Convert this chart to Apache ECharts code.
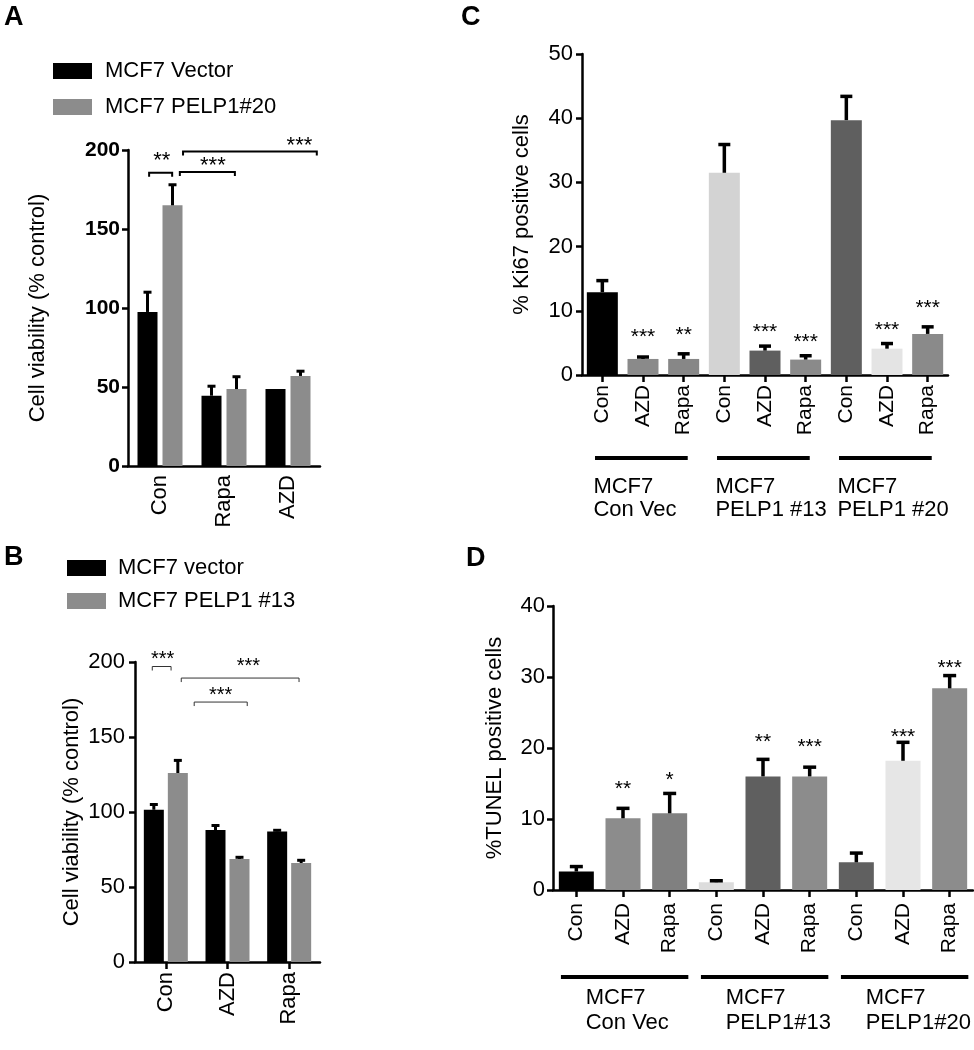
<!DOCTYPE html>
<html><head><meta charset="utf-8">
<script src="https://cdn.jsdelivr.net/npm/echarts@6/dist/echarts.min.js"></script>
<style>html,body{margin:0;padding:0;background:#fff}#c{width:974px;height:1050px}</style>
</head><body><div id="c"></div>
<script>
// ---------- Panel A ----------
const aCategories = ['Con', 'Rapa', 'AZD'];
const aVector = [97.5, 44.5, 48.7];
const aVectorSem = [12.5, 6.0, 0];
const aPelp20 = [165, 48.7, 57];
const aPelp20Sem = [13, 7.8, 3];
// [startCat, startFrac, endCat, endFrac, bracketY, labelFrac, labelY]
const aBrackets = [[0, -0.17, 0, 0.19, 185.6, 0.55, 193], [0, 0.31, 1, 0.17, 186, 0.6, 190], [0, 0.36, 2, 0.45, 199, 0.87, 202.7]];
const aBracketText = ['**', '***', '***'];

// ---------- Panel B ----------
const bCategories = ['Con', 'AZD', 'Rapa'];
const bVector = [101.5, 88, 87];
const bVectorSem = [3.5, 3, 0.8];
const bPelp13 = [126, 68.7, 66];
const bPelp13Sem = [8.4, 1.1, 1.8];
const bBrackets = [[0, -0.22, 0, 0.085, 197, 0.55, 202], [0, 0.25, 2, 0.16, 189.3, 0.57, 196.7], [1, -0.54, 1, 0.32, 173.3, 0.5, 178]];
const bBracketText = ['***', '***', '***'];

// ---------- Panel C ----------
const cCategories = ['Con', 'AZD', 'Rapa', 'Con', 'AZD', 'Rapa', 'Con', 'AZD', 'Rapa'];
const cMean = [12.9, 2.5, 2.5, 31.5, 3.8, 2.4, 39.7, 4.1, 6.4];
const cSem = [1.8, 0.3, 0.8, 4.4, 0.7, 0.6, 3.7, 0.8, 1.1];
const cStarText = ['', '***', '**', '', '***', '***', '', '***', '***'];
const cStarY = [0, 5.9, 6.2, 0, 6.7, 5.1, 0, 7.0, 10.4];
const cColors = ['#000000', '#8a8a8a', '#878787', '#d3d3d3', '#5f5f5f', '#8a8a8a', '#5f5f5f', '#e4e4e4', '#8a8a8a'];
const cGroups = [[0, 2], [3, 5], [6, 8]];
const cGroupText = ['MCF7\nCon Vec', 'MCF7\nPELP1 #13', 'MCF7\nPELP1 #20'];

// ---------- Panel D ----------
const dCategories = ['Con', 'AZD', 'Rapa', 'Con', 'AZD', 'Rapa', 'Con', 'AZD', 'Rapa'];
const dMean = [2.6, 10.1, 10.8, 1.1, 16.0, 16.0, 3.9, 18.2, 28.4];
const dSem = [0.7, 1.4, 2.8, 0.2, 2.4, 1.3, 1.3, 2.6, 1.8];
const dStarText = ['', '**', '*', '', '**', '***', '', '***', '***'];
const dStarY = [0, 14.2, 15.4, 0, 20.8, 20.1, 0, 21.5, 31.3];
const dColors = ['#000000', '#8c8c8c', '#808080', '#dcdcdc', '#5f5f5f', '#8c8c8c', '#606060', '#e6e6e6', '#8c8c8c'];
const dGroups = [[0, 2], [3, 5], [6, 8]];
const dGroupText = ['MCF7\nCon Vec', 'MCF7\nPELP1#13', 'MCF7\nPELP1#20'];

const FONT = "'Liberation Sans', Arial, Helvetica, sans-serif";

function txt(text, x, y, size, align, valign, extra) {
  return Object.assign({
    type: 'text',
    style: {
      text: text, x: x, y: y, fill: '#000',
      font: size + 'px ' + FONT,
      align: align, textAlign: align,
      verticalAlign: valign, textVerticalAlign: valign
    }
  }, extra || {});
}

function errRender(offset, capW, lw) {
  return function (params, api) {
    const cat = api.value(0), mean = api.value(1), sem = api.value(2);
    if (!(sem > 0)) return null;
    const p0 = api.coord([cat, mean]);
    const p1 = api.coord([cat, mean + sem]);
    const x = p0[0] + offset;
    const st = { stroke: '#000', lineWidth: lw };
    return {
      type: 'group', children: [
        { type: 'line', shape: { x1: x, y1: p0[1], x2: x, y2: p1[1] }, style: st },
        { type: 'line', shape: { x1: x - capW / 2, y1: p1[1], x2: x + capW / 2, y2: p1[1] }, style: st }
      ]
    };
  };
}

function bracketRender(labels, lw, color, tick, fontSize) {
  return function (params, api) {
    const band = api.size([1, 0])[0];
    const x1 = api.coord([api.value(0), 0])[0] + api.value(1) * band;
    const x2 = api.coord([api.value(2), 0])[0] + api.value(3) * band;
    const y = api.coord([0, api.value(4)])[1];
    const ly = api.coord([0, api.value(6)])[1];
    const lx = x1 + (x2 - x1) * api.value(5);
    return {
      type: 'group', children: [
        { type: 'polyline', shape: { points: [[x1, y + tick], [x1, y], [x2, y], [x2, y + tick]] }, style: { stroke: color, lineWidth: lw, fill: null } },
        txt(labels[params.dataIndex], lx, ly, fontSize, 'center', 'middle')
      ]
    };
  };
}

function starRender(labels, fontSize) {
  return function (params, api) {
    const t = labels[params.dataIndex];
    if (!t) return null;
    const p = api.coord([api.value(0), api.value(1)]);
    return txt(t, p[0], p[1], fontSize, 'center', 'middle');
  };
}

function groupRender(labels, lineOff, textOff, startFrac, endFrac, textFrac, lineH) {
  return function (params, api) {
    const band = api.size([1, 0])[0];
    const a = api.coord([api.value(0), 0]);
    const b = api.coord([api.value(1), 0]);
    const x1 = a[0] + startFrac * band, x2 = b[0] + endFrac * band;
    const y = a[1] + lineOff;
    return {
      type: 'group', children: [
        { type: 'line', shape: { x1: x1, y1: y, x2: x2, y2: y }, style: { stroke: '#000', lineWidth: 4 } },
        {
          type: 'text', style: {
            text: labels[params.dataIndex], x: a[0] + textFrac * band, y: a[1] + textOff,
            fill: '#000', font: '22px ' + FONT, lineHeight: lineH,
            align: 'left', textAlign: 'left', verticalAlign: 'top', textVerticalAlign: 'top'
          }
        }
      ]
    };
  };
}

const axisLineStyle = { color: '#000', width: 2.5 };

function yAxis(gi, max, interval, name, nameGap, labelSize, bold, margin) {
  return {
    type: 'value', gridIndex: gi, min: 0, max: max, interval: interval,
    name: name, nameLocation: 'middle', nameGap: nameGap, nameRotate: 90,
    nameTextStyle: { color: '#000', fontSize: 22, fontFamily: FONT },
    axisLine: { show: true, lineStyle: axisLineStyle },
    axisTick: { show: true, length: 6, lineStyle: { color: '#000', width: 2.5 } },
    axisLabel: { color: '#000', fontSize: labelSize, fontFamily: FONT, fontWeight: bold ? 'bold' : 'normal', margin: margin },
    splitLine: { show: false }
  };
}
function xAxis(gi, cats, ticks, margin, size) {
  return {
    type: 'category', gridIndex: gi, data: cats,
    axisLine: { show: true, lineStyle: axisLineStyle },
    axisTick: { show: ticks, alignWithLabel: true, length: 7, lineStyle: { color: '#000', width: 2.5 } },
    axisLabel: { color: '#000', fontSize: size, fontFamily: FONT, rotate: 90, margin: margin, interval: 0 },
    splitLine: { show: false }
  };
}

const option = {
  animation: false,
  backgroundColor: '#fff',
  textStyle: { fontFamily: FONT },
  grid: [
    { left: 128, top: 150, width: 192, height: 316 },
    { left: 135, top: 662, width: 185, height: 300 },
    { left: 582, top: 54, width: 366, height: 321 },
    { left: 553, top: 606, width: 420, height: 284 }
  ],
  legend: [
    {
      data: ['MCF7 Vector', 'MCF7 PELP1#20'], orient: 'vertical', left: 48, top: 55,
      itemWidth: 39, itemHeight: 16, itemGap: 14, icon: 'rect', selectedMode: false,
      textStyle: { color: '#000', fontSize: 22, fontFamily: FONT, padding: [0, 0, 0, 8] }
    },
    {
      data: ['MCF7 vector', 'MCF7 PELP1 #13'], orient: 'vertical', left: 62, top: 552,
      itemWidth: 39, itemHeight: 16, itemGap: 11, icon: 'rect', selectedMode: false,
      textStyle: { color: '#000', fontSize: 22, fontFamily: FONT, padding: [0, 0, 0, 7] }
    }
  ],
  xAxis: [
    xAxis(0, aCategories, false, 9, 22),
    xAxis(1, bCategories, true, 10, 22),
    xAxis(2, cCategories, true, 10, 21),
    xAxis(3, dCategories, true, 13, 21)
  ],
  yAxis: [
    yAxis(0, 200, 50, 'Cell viability (% control)', 79, 21, true, 8),
    yAxis(1, 200, 50, 'Cell viability (% control)', 52, 22, false, 10),
    yAxis(2, 50, 10, '% Ki67 positive cells', 49, 22, false, 9),
    yAxis(3, 40, 10, '%TUNEL positive cells', 47, 22, false, 8)
  ],
  graphic: [
    { type: 'text', left: 4, top: 4, style: { text: 'A', font: 'bold 27px ' + FONT, fill: '#000' } },
    { type: 'text', left: 4, top: 544, style: { text: 'B', font: 'bold 27px ' + FONT, fill: '#000' } },
    { type: 'text', left: 461, top: 4, style: { text: 'C', font: 'bold 27px ' + FONT, fill: '#000' } },
    { type: 'text', left: 466, top: 545, style: { text: 'D', font: 'bold 27px ' + FONT, fill: '#000' } }
  ],
  series: [
    // Panel A
    { name: 'MCF7 Vector', type: 'bar', xAxisIndex: 0, yAxisIndex: 0, data: aVector, barWidth: 20, barGap: '25%', itemStyle: { color: '#000' } },
    { name: 'MCF7 PELP1#20', type: 'bar', xAxisIndex: 0, yAxisIndex: 0, data: aPelp20, barWidth: 20, barGap: '25%', itemStyle: { color: '#8c8c8c' } },
    { type: 'custom', xAxisIndex: 0, yAxisIndex: 0, z: 5, data: aVector.map((v, i) => [i, v, aVectorSem[i]]), renderItem: errRender(-12.5, 8, 3) },
    { type: 'custom', xAxisIndex: 0, yAxisIndex: 0, z: 5, data: aPelp20.map((v, i) => [i, v, aPelp20Sem[i]]), renderItem: errRender(12.5, 8, 3) },
    { type: 'custom', xAxisIndex: 0, yAxisIndex: 0, z: 5, data: aBrackets, encode: { x: 0, y: 4 }, renderItem: bracketRender(aBracketText, 2, '#000', 4, 22) },
    // Panel B
    { name: 'MCF7 vector', type: 'bar', xAxisIndex: 1, yAxisIndex: 1, data: bVector, barWidth: 20, barGap: '20%', itemStyle: { color: '#000' } },
    { name: 'MCF7 PELP1 #13', type: 'bar', xAxisIndex: 1, yAxisIndex: 1, data: bPelp13, barWidth: 20, barGap: '20%', itemStyle: { color: '#8c8c8c' } },
    { type: 'custom', xAxisIndex: 1, yAxisIndex: 1, z: 5, data: bVector.map((v, i) => [i, v, bVectorSem[i]]), renderItem: errRender(-12, 8, 3) },
    { type: 'custom', xAxisIndex: 1, yAxisIndex: 1, z: 5, data: bPelp13.map((v, i) => [i, v, bPelp13Sem[i]]), renderItem: errRender(12, 8, 3) },
    { type: 'custom', xAxisIndex: 1, yAxisIndex: 1, z: 5, data: bBrackets, encode: { x: 0, y: 4 }, renderItem: bracketRender(bBracketText, 1, '#333', 4, 20) },
    // Panel C
    { type: 'bar', xAxisIndex: 2, yAxisIndex: 2, barWidth: 31, data: cMean.map((v, i) => ({ value: v, itemStyle: { color: cColors[i] } })) },
    { type: 'custom', xAxisIndex: 2, yAxisIndex: 2, z: 5, data: cMean.map((v, i) => [i, v, cSem[i]]), renderItem: errRender(0, 12, 3.5) },
    { type: 'custom', xAxisIndex: 2, yAxisIndex: 2, z: 5, data: cStarY.map((v, i) => [i, v]), renderItem: starRender(cStarText, 21) },
    { type: 'custom', xAxisIndex: 2, yAxisIndex: 2, z: 5, data: cGroups, encode: { x: 0, y: 1 }, renderItem: groupRender(cGroupText, 83, 100, -0.18, 0.1, -0.22, 23) },
    // Panel D
    { type: 'bar', xAxisIndex: 3, yAxisIndex: 3, barWidth: 35, data: dMean.map((v, i) => ({ value: v, itemStyle: { color: dColors[i] } })) },
    { type: 'custom', xAxisIndex: 3, yAxisIndex: 3, z: 5, data: dMean.map((v, i) => [i, v, dSem[i]]), renderItem: errRender(0, 13, 3.5) },
    { type: 'custom', xAxisIndex: 3, yAxisIndex: 3, z: 5, data: dStarY.map((v, i) => [i, v]), renderItem: starRender(dStarText, 21) },
    { type: 'custom', xAxisIndex: 3, yAxisIndex: 3, z: 5, data: dGroups, encode: { x: 0, y: 1 }, renderItem: groupRender(dGroupText, 87, 95, -0.33, 0.4, 0.2, 25) }
  ]
};

const chart = echarts.init(document.getElementById('c'), null, { renderer: 'canvas' });
chart.setOption(option);
</script>
</body></html>
